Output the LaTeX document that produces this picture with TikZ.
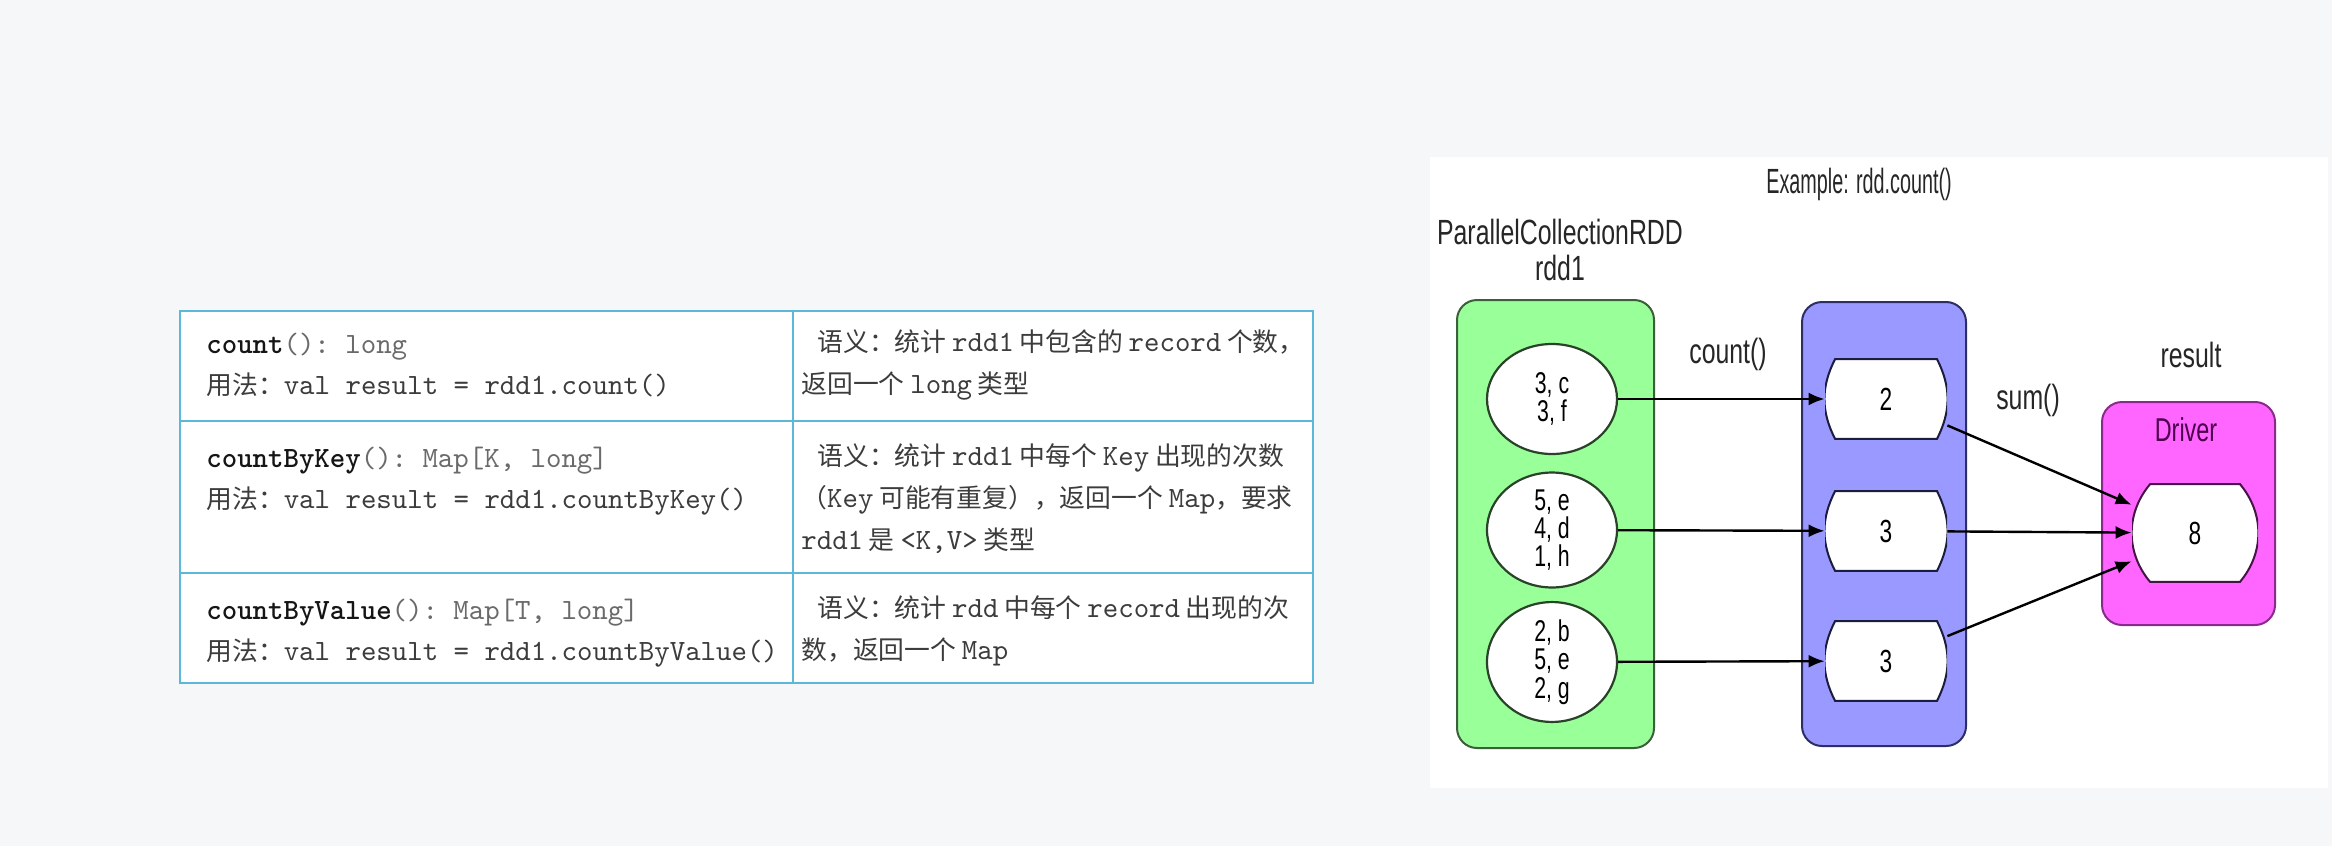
\documentclass[tikz,border=0pt]{standalone}
\usepackage{fontspec}
\usepackage{xcolor}
\usetikzlibrary{arrows.meta,shapes.geometric}
\newfontfamily\cjk{Noto Sans CJK SC}
\newfontfamily\dsans{Liberation Sans}[FakeStretch=0.71]
\newfontfamily\dtitle{Liberation Sans}[FakeStretch=0.565]
\setmonofont{lmmono10-regular.otf}[BoldFont=lmmonolt10-bold.otf,Scale=1.14]
\definecolor{pagebg}{HTML}{F6F7F9}
\definecolor{tableline}{HTML}{5BB8D6}
\definecolor{celltext}{HTML}{3C3C3C}
\definecolor{namecol}{HTML}{151515}
\definecolor{typecol}{HTML}{6A6A6A}
\definecolor{rddgreen}{HTML}{99FF99}
\definecolor{rddgreenline}{HTML}{3B5E3B}
\definecolor{rddblue}{HTML}{9999FF}
\definecolor{rddblueline}{HTML}{2E2E66}
\definecolor{drvpink}{HTML}{FF66FF}
\definecolor{drvline}{HTML}{8A2A8A}
\definecolor{drvtext}{HTML}{4D004D}
\newcommand{\fname}[1]{\textcolor{namecol}{\textbf{#1}}}
\newcommand{\ftype}[1]{\textcolor{typecol}{#1}}

\begin{document}
\begin{tikzpicture}[x=0.5pt,y=-0.5pt,>={Latex[length=8pt,width=6.5pt]},
  flow/.style={->,draw=black,line width=1.2pt},
  cell/.style={anchor=base west,inner sep=0pt,align=left,text=celltext,font=\cjk\fontsize{12.9}{20.5}\selectfont},
  note/.style={cell,font=\cjk\fontsize{12.9}{21}\selectfont},
  lbl/.style={inner sep=0pt,text=black!85,font=\dsans\fontsize{17.5}{18}\selectfont},
  container/.style={draw,rounded corners=10pt,line width=1pt},
  part/.style={ellipse,draw=rddgreenline!70!black,fill=white,line width=1.1pt,minimum width=65pt,minimum height=55pt,inner sep=0pt,align=center,font=\dsans\fontsize{15}{14.2}\selectfont},
  % box with bulging sides: #1 = bulge, #2 = bend angle, #3 = line colour
  cnt/.style n args={3}{rectangle,inner sep=0pt,font=\dsans\fontsize{16}{16}\selectfont,
    path picture={\draw[fill=white,line width=1pt,draw=#3]
      ([xshift=#1,yshift=-0.6pt]path picture bounding box.north west) --
      ([xshift=-#1,yshift=-0.6pt]path picture bounding box.north east) to[bend left=#2]
      ([xshift=-#1,yshift=0.6pt]path picture bounding box.south east) --
      ([xshift=#1,yshift=0.6pt]path picture bounding box.south west) to[bend left=#2]
      ([xshift=#1,yshift=-0.6pt]path picture bounding box.north west) -- cycle;}}]
  \useasboundingbox (0,0) rectangle (2332,846);
  \fill[pagebg] (0,0) rectangle (2332,846);

  % table (base anchor = last line)
  \fill[white] (180,311) rectangle (1313,683);
  \draw[tableline,line width=1.4pt] (180,311) rectangle (1313,683)
    (180,421) -- (1313,421) (180,573) -- (1313,573) (793,311) -- (793,683);
  \node[cell] (api1) at (206,394) {\texttt{\fname{count}\ftype{(): long}}\\用法：\texttt{val result = rdd1.count()}};
  \node[cell] (api2) at (206,508) {\texttt{\fname{countByKey}\ftype{(): Map[K, long]}}\\用法：\texttt{val result = rdd1.countByKey()}};
  \node[cell] (api3) at (206,660) {\texttt{\fname{countByValue}\ftype{(): Map[T, long]}}\\用法：\texttt{val result = rdd1.countByValue()}};
  \node[note] (sem1) at (801,393) {\hspace*{8pt}语义：统计 \texttt{rdd1} 中包含的 \texttt{record} 个数，\\返回一个 \texttt{long} 类型};
  \node[note] (sem2) at (801,549) {\hspace*{8pt}语义：统计 \texttt{rdd1} 中每个 \texttt{Key} 出现的次数\\（\texttt{Key} 可能有重复），返回一个 \texttt{Map}，要求\\\texttt{rdd1} 是 \texttt{<K,V>} 类型};
  \node[note] (sem3) at (801,659) {\hspace*{8pt}语义：统计 \texttt{rdd} 中每个 \texttt{record} 出现的次\\数，返回一个 \texttt{Map}};

  % rdd.count() example
  \fill[white] (1430,157) rectangle (2328,788);
  \node[lbl,font=\dtitle\fontsize{17.5}{17}\selectfont] (title) at (1859,184) {Example: rdd.count()};
  \node[lbl,align=center] (rddname) at (1560,250) {ParallelCollectionRDD\\rdd1};
  \node[container,fill=rddgreen,draw=rddgreenline,minimum width=98.5pt,minimum height=224pt] (rdd1) at (1555.5,524) {};
  \node[container,fill=rddblue,draw=rddblueline,minimum width=82pt,minimum height=222pt] (counts) at (1884,524) {};
  \node[container,fill=drvpink,draw=drvline,minimum width=86.5pt,minimum height=111.5pt] (driver) at (2188.5,513.5) {};
  \node[lbl,text=drvtext,font=\dsans\fontsize{16.5}{16}\selectfont] (drvname) at (2186,430) {Driver};
  \node[lbl] (countop) at (1728,354) {count()};
  \node[lbl] (sumop) at (2028,400) {sum()};
  \node[lbl] (resname) at (2191,355) {result};

  \node[part] (p1) at (1552,399) {3, c\\3, f};
  \node[part] (p2) at (1552,530) {5, e\\4, d\\1, h};
  \node[part] (p3) at (1552,662) {2, b\\5, e\\2, g};
  \node[cnt={5pt}{27}{rddblueline!60!black},minimum width=61pt,minimum height=41pt] (n1) at (1886,399) {2};
  \node[cnt={5pt}{27}{rddblueline!60!black},minimum width=61pt,minimum height=41pt] (n2) at (1886,531) {3};
  \node[cnt={5pt}{27}{rddblueline!60!black},minimum width=61pt,minimum height=41pt] (n3) at (1886,661) {3};
  \node[cnt={9pt}{40}{drvline!50!black},minimum width=63pt,minimum height=50pt] (total) at (2195,533) {8};

  \path[flow]
    (p1) edge (n1)
    (p2) edge (n2)
    (p3) edge (n3)
    (n1) edge (total.156)
    (n2) edge (total)
    (n3) edge (total.204);
\end{tikzpicture}
\end{document}
